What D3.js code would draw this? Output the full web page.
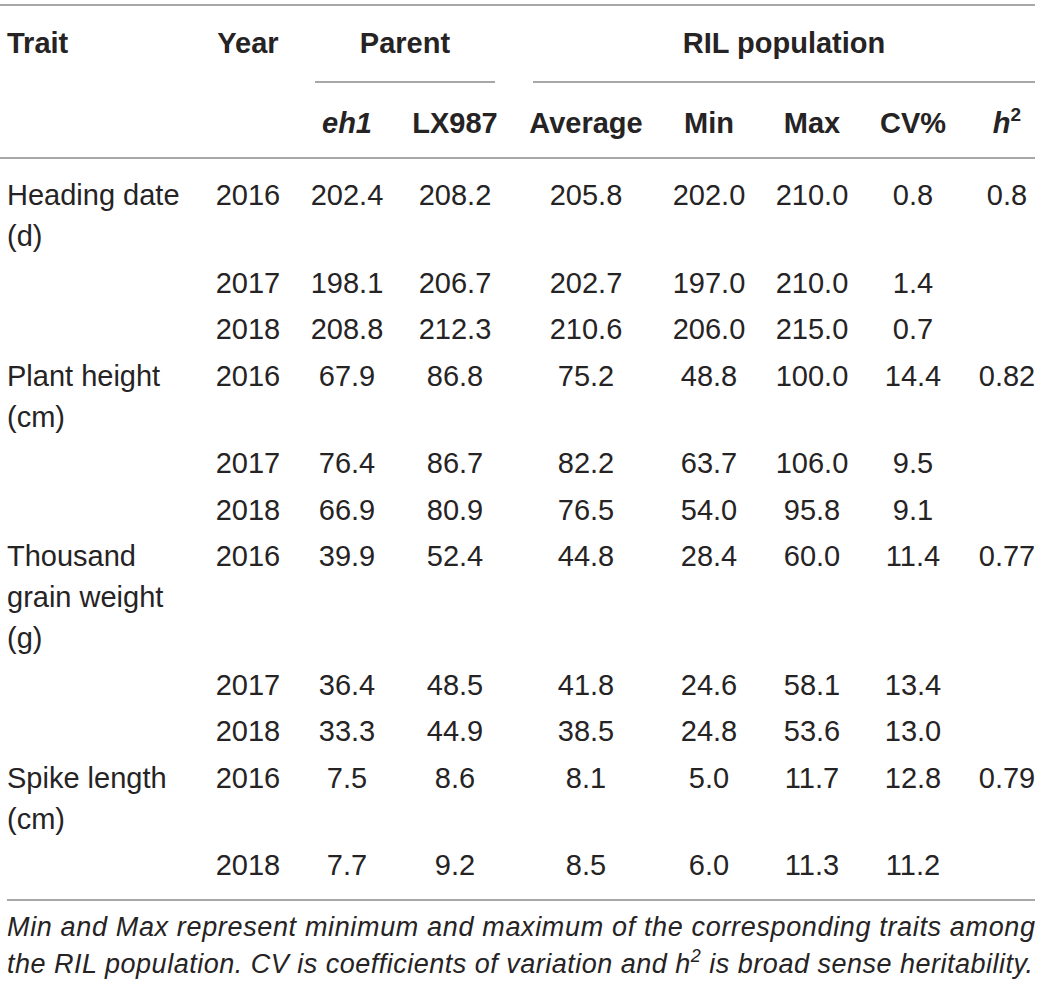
<!DOCTYPE html>
<html>
<head>
    <title>RIL trait table</title>
    <style>
        body { margin: 0; background: #fff; }
        svg text { font-family: "Liberation Sans", Arial, Helvetica, sans-serif; fill: #262324; }
    </style>
</head>
<body>
    <div id="table"></div>

    <script src="https://d3js.org/d3.v7.min.js"></script>
    <script>
        // table data
        const traitLabels = [
            ['Heading date', '(d)'],
            ['Plant height', '(cm)'],
            ['Thousand', 'grain weight', '(g)'],
            ['Spike length', '(cm)']
        ];
        const traitYears = [[2016, 2017, 2018], [2016, 2017, 2018], [2016, 2017, 2018], [2016, 2018]];
        const eh1 = [202.4, 198.1, 208.8, 67.9, 76.4, 66.9, 39.9, 36.4, 33.3, 7.5, 7.7];
        const lx987 = [208.2, 206.7, 212.3, 86.8, 86.7, 80.9, 52.4, 48.5, 44.9, 8.6, 9.2];
        const average = [205.8, 202.7, 210.6, 75.2, 82.2, 76.5, 44.8, 41.8, 38.5, 8.1, 8.5];
        const minVal = [202.0, 197.0, 206.0, 48.8, 63.7, 54.0, 28.4, 24.6, 24.8, 5.0, 6.0];
        const maxVal = [210.0, 210.0, 215.0, 100.0, 106.0, 95.8, 60.0, 58.1, 53.6, 11.7, 11.3];
        const cv = [0.8, 1.4, 0.7, 14.4, 9.5, 9.1, 11.4, 13.4, 13.0, 12.8, 11.2];
        const h2 = ['0.8', '0.82', '0.77', '0.79'];
        const columns = ['year', 'eh1', 'lx987', 'average', 'min', 'max', 'cv', 'h2'];
        const footnote = [
            'Min and Max represent minimum and maximum of the corresponding traits among',
            'the RIL population. CV is coefficients of variation and '
        ];

        const width = 1040, height = 986;
        const fmt = d3.format('.1f');

        const svg = d3.select('#table').append('svg')
            .attr('width', width)
            .attr('height', height);

        // column centres
        const x = d3.scaleOrdinal()
            .domain(columns)
            .range([248, 347, 455, 586, 709, 812, 913, 1007]);

        // flatten rows, work out baselines from line counts
        const rows = [];
        let k = 0, base = 205;
        const lineGap = 41, rowGap = 46.5;
        traitYears.forEach((ys, t) => {
            ys.forEach((yr, j) => {
                const lines = j === 0 ? traitLabels[t].length : 1;
                rows.push({
                    trait: t, first: j === 0, y: base, lines: lines,
                    year: yr, eh1: eh1[k], lx987: lx987[k], average: average[k],
                    min: minVal[k], max: maxVal[k], cv: cv[k]
                });
                base += lineGap * (lines - 1) + rowGap;
                k++;
            });
        });

        const rule = (x1, x2, y) => svg.append('line')
            .attr('x1', x1).attr('x2', x2).attr('y1', y).attr('y2', y)
            .attr('stroke', '#8a8a8a').attr('stroke-width', 1.6);

        rule(0, 1035, 5);
        rule(315, 495, 82);
        rule(533, 1035, 82);
        rule(0, 1035, 158);
        rule(7, 1035, 900);

        // header
        const head = svg.append('g').attr('font-size', 29).attr('font-weight', 'bold');
        head.append('text').attr('x', 7).attr('y', 53).text('Trait');
        head.append('text').attr('x', x('year')).attr('y', 53).attr('text-anchor', 'middle').text('Year');
        head.append('text').attr('x', 405).attr('y', 53).attr('text-anchor', 'middle').text('Parent');
        head.append('text').attr('x', 784).attr('y', 53).attr('text-anchor', 'middle').text('RIL population');

        const sub = [
            { key: 'eh1', label: 'eh1', italic: true },
            { key: 'lx987', label: 'LX987' },
            { key: 'average', label: 'Average' },
            { key: 'min', label: 'Min' },
            { key: 'max', label: 'Max' },
            { key: 'cv', label: 'CV%' }
        ];
        head.selectAll('.sub').data(sub).enter().append('text')
            .attr('class', 'sub')
            .attr('x', d => x(d.key))
            .attr('y', 133)
            .attr('text-anchor', 'middle')
            .attr('font-style', d => d.italic ? 'italic' : 'normal')
            .text(d => d.label);
        const hh = head.append('text').attr('x', x('h2')).attr('y', 133).attr('text-anchor', 'middle');
        hh.append('tspan').attr('font-style', 'italic').text('h');
        hh.append('tspan').attr('font-size', 19).attr('dy', -12).text('2');

        // body
        const body = svg.append('g').attr('font-size', 29);

        const traitText = body.selectAll('.trait').data(rows.filter(r => r.first)).enter().append('text')
            .attr('class', 'trait')
            .attr('x', 7)
            .attr('y', d => d.y);
        traitText.selectAll('tspan').data(d => traitLabels[d.trait]).enter().append('tspan')
            .attr('x', 7)
            .attr('dy', (d, i) => i === 0 ? 0 : lineGap)
            .text(d => d);

        columns.slice(0, 7).forEach(col => {
            body.selectAll('.c-' + col).data(rows).enter().append('text')
                .attr('class', 'c-' + col)
                .attr('x', x(col))
                .attr('y', d => d.y)
                .attr('text-anchor', 'middle')
                .text(d => col === 'year' ? d.year : fmt(d[col]));
        });

        body.selectAll('.c-h2').data(rows.filter(r => r.first)).enter().append('text')
            .attr('class', 'c-h2')
            .attr('x', x('h2'))
            .attr('y', d => d.y)
            .attr('text-anchor', 'middle')
            .text(d => h2[d.trait]);

        // footnote
        const foot = svg.append('g').attr('font-size', 27).attr('font-style', 'italic');
        foot.append('text').attr('x', 7).attr('y', 936)
            .attr('textLength', 1028).attr('lengthAdjust', 'spacing')
            .text(footnote[0]);
        const f2 = foot.append('text').attr('x', 7).attr('y', 973)
            .attr('textLength', 1026).attr('lengthAdjust', 'spacing');
        f2.append('tspan').text(footnote[1] + 'h');
        f2.append('tspan').attr('font-size', 18).attr('dy', -11).text('2');
        f2.append('tspan').attr('dy', 11).text(' is broad sense heritability.');
    </script>
</body>
</html>
